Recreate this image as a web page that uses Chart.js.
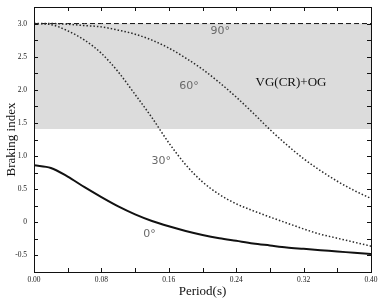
<!DOCTYPE html>
<html>
<head>
<meta charset="utf-8">
<script src="https://cdn.jsdelivr.net/npm/chart.js"></script>
<style>
  html, body { margin: 0; padding: 0; background: #fff; }
  #wrap { width: 382px; height: 299px; }
</style>
</head>
<body>
<div id="wrap"><canvas id="brakingChart" width="382" height="299"></canvas></div>
<script>
// period grid (s) shared by all curves
const periods = [0.00, 0.02, 0.04, 0.06, 0.08, 0.10, 0.12, 0.14, 0.16, 0.18, 0.20,
                 0.22, 0.24, 0.26, 0.28, 0.30, 0.32, 0.34, 0.36, 0.38, 0.40];

// braking index for each inclination angle
const n0 = [0.86, 0.82, 0.69, 0.53, 0.38, 0.24, 0.12, 0.02, -0.06, -0.13, -0.19,
            -0.24, -0.28, -0.32, -0.35, -0.38, -0.40, -0.42, -0.44, -0.46, -0.48];
const n30 = [3.00, 2.985, 2.89, 2.75, 2.55, 2.27, 1.93, 1.58, 1.20, 0.87, 0.61,
             0.42, 0.28, 0.175, 0.08, -0.01, -0.10, -0.18, -0.24, -0.30, -0.36];
const n60 = [3.00, 3.00, 2.99, 2.97, 2.95, 2.90, 2.84, 2.75, 2.63, 2.48, 2.31,
             2.11, 1.89, 1.65, 1.40, 1.17, 0.96, 0.78, 0.62, 0.48, 0.36];
const n90 = [3.00, 3.00, 3.00, 3.00, 3.00, 3.00, 3.00, 3.00, 3.00, 3.00, 3.00,
             3.00, 3.00, 3.00, 3.00, 3.00, 3.00, 3.00, 3.00, 3.00, 3.00];

// shaded VG(CR)+OG region
const bandTop = 3.0;
const bandBottom = 1.41;

// text labels placed in data coordinates
const annotations = [
    { text: '90°', x: 0.221, y: 2.88, font: '11px "DejaVu Sans"', color: '#6a6a6a' },
    { text: '60°', x: 0.184, y: 2.05, font: '11px "DejaVu Sans"', color: '#6a6a6a' },
    { text: '30°', x: 0.151, y: 0.93, font: '11px "DejaVu Sans"', color: '#6a6a6a' },
    { text: '0°', x: 0.137, y: -0.18, font: '11px "DejaVu Sans"', color: '#6a6a6a' },
    { text: 'VG(CR)+OG', x: 0.305, y: 2.11, font: '13px "Liberation Serif"', color: '#111' }
];

const toPoints = (ys) => periods.map((p, i) => ({ x: p, y: ys[i] }));

const isHalf = (v) => Math.abs(v * 2 - Math.round(v * 2)) < 1e-6;

// draws the plot frame, inward ticks on all four sides and the angle labels
const framePlugin = {
    id: 'frame',
    afterDatasetsDraw(chart) {
        const { ctx, chartArea: a, scales } = chart;
        const len = 4;
        ctx.save();
        ctx.strokeStyle = '#111';
        ctx.lineWidth = 1;
        ctx.beginPath();
        scales.x.ticks.forEach(t => {
            const px = Math.round(scales.x.getPixelForValue(t.value)) + 0.5;
            ctx.moveTo(px, a.bottom); ctx.lineTo(px, a.bottom - len);
            ctx.moveTo(px, a.top); ctx.lineTo(px, a.top + len);
        });
        scales.y.ticks.forEach(t => {
            const py = Math.round(scales.y.getPixelForValue(t.value)) + 0.5;
            ctx.moveTo(a.left, py); ctx.lineTo(a.left + len, py);
            ctx.moveTo(a.right, py); ctx.lineTo(a.right - len, py);
        });
        ctx.stroke();
        ctx.strokeRect(Math.round(a.left) + 0.5, Math.round(a.top) + 0.5,
                       Math.round(a.right - a.left), Math.round(a.bottom - a.top));

        ctx.textAlign = 'center';
        ctx.textBaseline = 'middle';
        annotations.forEach(an => {
            ctx.font = an.font;
            ctx.fillStyle = an.color;
            ctx.fillText(an.text, scales.x.getPixelForValue(an.x), scales.y.getPixelForValue(an.y));
        });
        ctx.restore();
    }
};

const dotted = { borderColor: '#2a2a2a', borderWidth: 1.5, borderDash: [1.5, 2], pointRadius: 0,
                 cubicInterpolationMode: 'monotone', fill: false };

const ctx = document.getElementById('brakingChart').getContext('2d');
new Chart(ctx, {
    type: 'line',
    data: {
        datasets: [
            { label: '0°', data: toPoints(n0), borderColor: '#111', borderWidth: 2, pointRadius: 0,
              cubicInterpolationMode: 'monotone', fill: false },
            { label: '30°', data: toPoints(n30), ...dotted },
            { label: '60°', data: toPoints(n60), ...dotted },
            { label: '90°', data: toPoints(n90), borderColor: '#111', borderWidth: 1,
              borderDash: [5, 3], pointRadius: 0, fill: false },
            { label: 'band', data: periods.map(p => ({ x: p, y: bandTop })), borderWidth: 0,
              borderColor: 'rgba(0,0,0,0)', pointRadius: 0,
              backgroundColor: '#dcdcdc', fill: { value: bandBottom } }
        ]
    },
    options: {
        responsive: false,
        animation: false,
        layout: { padding: { top: 7, right: 11, bottom: 0, left: 0 } },
        plugins: {
            legend: { display: false },
            tooltip: { enabled: false }
        },
        scales: {
            x: {
                type: 'linear',
                min: 0,
                max: 0.4,
                grid: { display: false, drawTicks: false },
                border: { display: false },
                ticks: {
                    stepSize: 0.04,
                    autoSkip: false,
                    maxRotation: 0,
                    padding: 4,
                    color: '#222',
                    font: { family: 'Liberation Serif', size: 7.5 },
                    callback: (v, i) => (i % 2 === 0 ? Number(v).toFixed(2) : '')
                },
                title: {
                    display: true,
                    text: 'Period(s)',
                    color: '#111',
                    padding: 0,
                    font: { family: 'Liberation Serif', size: 13 }
                },
                afterFit: (scale) => {
                    scale.height = 27;
                    scale.paddingLeft = 0;
                    scale.paddingRight = 0;
                }
            },
            y: {
                min: -0.75,
                max: 3.25,
                grid: { display: false, drawTicks: false },
                border: { display: false },
                ticks: {
                    stepSize: 0.25,
                    autoSkip: false,
                    padding: 7,
                    color: '#222',
                    font: { family: 'Liberation Serif', size: 7.5 },
                    callback: (v) => (isHalf(v) ? (Math.abs(v) < 1e-6 ? '0' : Number(v).toFixed(1)) : '')
                },
                title: {
                    display: true,
                    text: 'Braking index',
                    color: '#111',
                    padding: { top: 4, bottom: 0 },
                    font: { family: 'Liberation Serif', size: 13 }
                },
                afterFit: (scale) => {
                    scale.width = 34;
                    scale.paddingTop = 0;
                    scale.paddingBottom = 0;
                }
            }
        }
    },
    plugins: [framePlugin]
});
</script>
</body>
</html>
